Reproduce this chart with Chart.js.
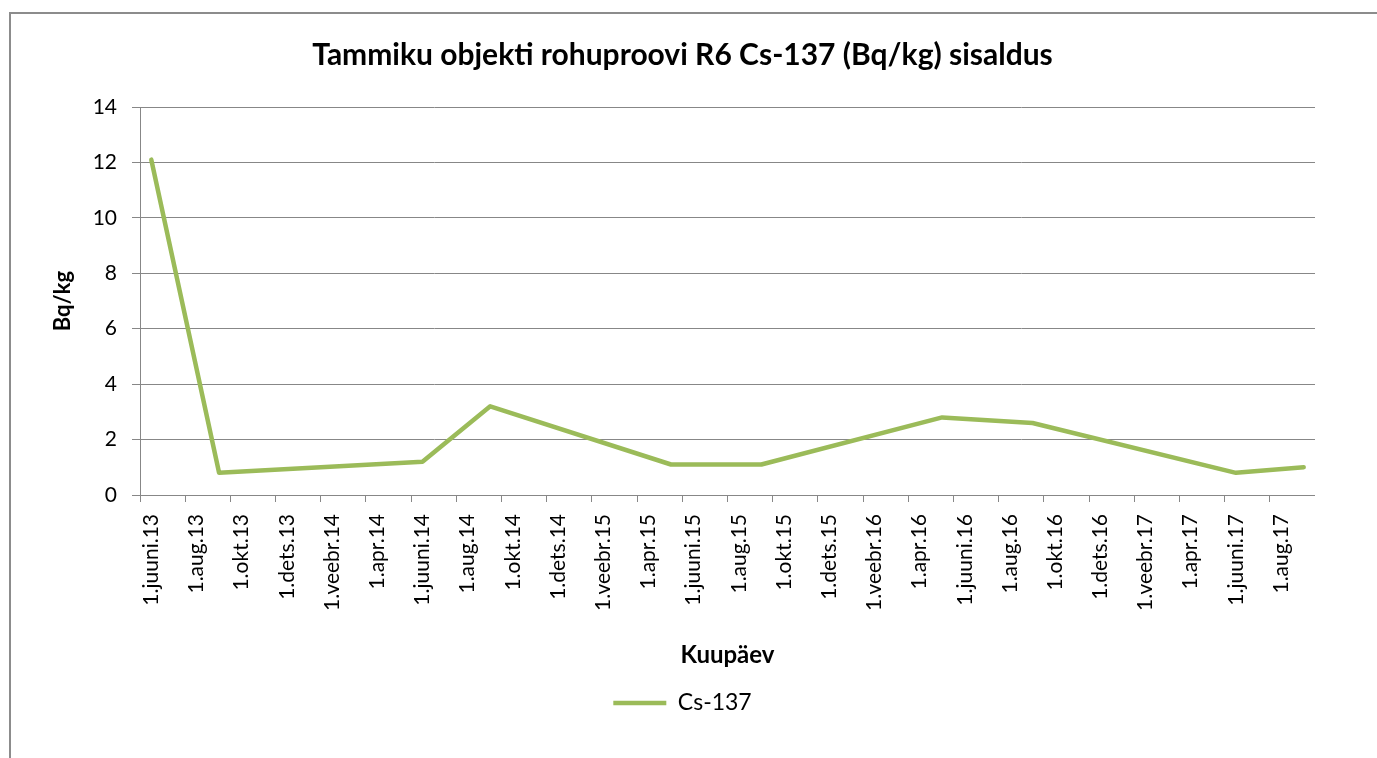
<!DOCTYPE html>
<html>
<head>
<meta charset="utf-8">
<script src="https://cdn.jsdelivr.net/npm/chart.js@4.4.1/dist/chart.umd.min.js"></script>
<style>
  html, body { margin: 0; padding: 0; background: #fff; overflow: hidden; }
  body { width: 1377px; height: 758px; position: relative; }
  #frame { position: absolute; left: 9px; top: 12px; width: 1400px; height: 800px;
           border-left: 2px solid #8c8c8c; border-top: 2px solid #8c8c8c; box-sizing: border-box; }
  #wrap { position: absolute; left: 10px; top: 14px; width: 1305px; height: 744px; }
</style>
</head>
<body>
<div id="frame"></div>
<div id="wrap"><canvas id="c"></canvas></div>
<script>
// ---- data ----
const tickLabels = ['1.juuni.13','1.aug.13','1.okt.13','1.dets.13','1.veebr.14','1.apr.14',
  '1.juuni.14','1.aug.14','1.okt.14','1.dets.14','1.veebr.15','1.apr.15','1.juuni.15',
  '1.aug.15','1.okt.15','1.dets.15','1.veebr.16','1.apr.16','1.juuni.16','1.aug.16',
  '1.okt.16','1.dets.16','1.veebr.17','1.apr.17','1.juuni.17','1.aug.17'];
const sampleMonths = ['2013-06','2013-09','2014-06','2014-09','2015-05','2015-09',
  '2016-05','2016-09','2017-06','2017-09'];
const cs137 = [12.1, 0.8, 1.2, 3.2, 1.1, 1.1, 2.8, 2.6, 0.8, 1.0];
const seriesName = 'Cs-137';
const axisStartMonth = '2013-06';   // first month on the date axis
const axisMonths = 52;              // Jun 2013 .. Sep 2017

function monthIndex(s) {
  const [y, m] = s.split('-').map(Number);
  const [y0, m0] = axisStartMonth.split('-').map(Number);
  return (y - y0) * 12 + (m - m0);
}
// each point sits in the middle of its month slot
const points = sampleMonths.map((d, i) => ({ x: monthIndex(d) + 0.5, y: cs137[i] }));

const FONT = 'Lato';
const GRID = '#878787';
const GREEN = '#9BBB59';

new Chart(document.getElementById('c'), {
  type: 'line',
  data: {
    datasets: [{
      label: seriesName,
      data: points,
      borderColor: GREEN,
      backgroundColor: GREEN,
      borderWidth: 4.5,
      pointRadius: 0,
      pointHoverRadius: 0,
      tension: 0,
      borderJoinStyle: 'round',
      borderCapStyle: 'round',
      fill: false
    }]
  },
  options: {
    responsive: true,
    maintainAspectRatio: false,
    animation: false,
    events: [],
    layout: { padding: { left: 40, right: 0, top: 0, bottom: 33.5 } },
    plugins: {
      tooltip: { enabled: false },
      title: {
        display: true,
        text: 'Tammiku objekti rohuproovi R6 Cs-137 (Bq/kg) sisaldus',
        color: '#000',
        font: { family: FONT, size: 30, weight: 'bold', lineHeight: 1.2 },
        padding: { top: 23, bottom: 34 }
      },
      legend: {
        display: true,
        position: 'bottom',
        labels: {
          color: '#000',
          font: { family: FONT, size: 23 },
          usePointStyle: true,
          pointStyle: 'line',
          pointStyleWidth: 53,
          padding: 10
        }
      }
    },
    scales: {
      x: {
        type: 'linear',
        min: 0,
        max: axisMonths,
        afterBuildTicks: (scale) => {
          const t = [];
          for (let v = 0; v <= axisMonths; v += 2) t.push({ value: v });
          scale.ticks = t;
        },
        afterFit: (scale) => { scale.height = 186.5; scale.paddingRight = 0; scale.paddingLeft = 0; },
        ticks: {
          autoSkip: false,
          minRotation: 90,
          maxRotation: 90,
          padding: 12,
          labelOffset: 1175 / axisMonths / 2,
          color: '#000',
          font: { family: FONT, size: 21 },
          callback: (value, index) => tickLabels[index] !== undefined ? tickLabels[index] : ''
        },
        grid: { drawOnChartArea: false, drawTicks: true, tickLength: 7, color: GRID, lineWidth: 1 },
        border: { display: true, color: GRID, width: 1 },
        title: {
          display: true,
          text: 'Kuupäev',
          color: '#000',
          font: { family: FONT, size: 24, weight: 'bold', lineHeight: 1.2 },
          padding: { top: 0, bottom: 12.1 }
        }
      },
      y: {
        min: 0,
        max: 14,
        afterFit: (scale) => { scale.width = 90; },
        ticks: {
          stepSize: 2,
          padding: 15,
          color: '#000',
          font: { family: FONT, size: 21 }
        },
        grid: { color: GRID, lineWidth: 1, tickLength: 8, drawTicks: true },
        border: { display: true, color: GRID, width: 1 },
        title: {
          display: true,
          text: 'Bq/kg',
          color: '#000',
          font: { family: FONT, size: 22, weight: 'bold', lineHeight: 1.2 },
          padding: { top: 0, bottom: 0 }
        }
      }
    }
  }
});
</script>
</body>
</html>
